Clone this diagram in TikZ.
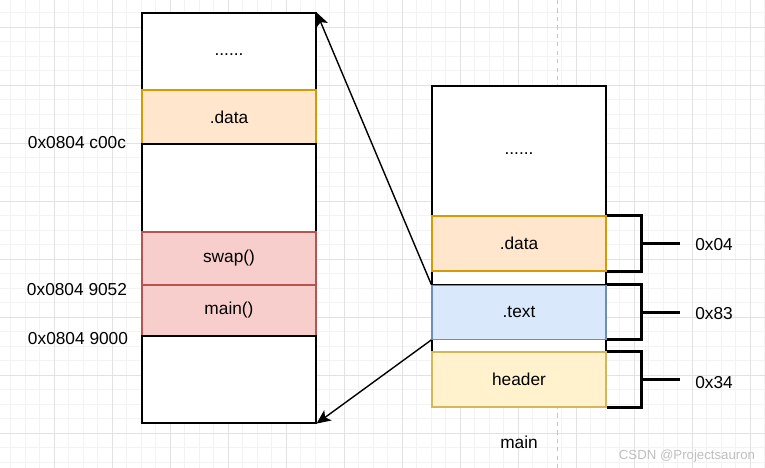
\documentclass[tikz,border=0pt]{standalone}
\usepackage{fontspec}
\setmainfont{Liberation Sans}
\usetikzlibrary{arrows.meta}

\definecolor{dataFill}{HTML}{FFE6CC}
\definecolor{dataLine}{HTML}{D79B00}
\definecolor{codeFill}{HTML}{F8CECC}
\definecolor{codeLine}{HTML}{B85450}
\definecolor{textFill}{HTML}{DAE8FC}
\definecolor{textLine}{HTML}{6C8EBF}
\definecolor{headFill}{HTML}{FFF2CC}
\definecolor{headLine}{HTML}{D6B656}
\definecolor{gridMinor}{HTML}{F3F3F3}
\definecolor{gridMajor}{HTML}{E2E2E2}

\tikzset{%
  % Specifications for style of nodes:
         base/.style = {rectangle, draw = black, line width=0.8pt, fill=white, minimum width=4.35cm, inner sep=0pt, font=\fontsize{12.3}{14}\selectfont},
     datapart/.style = {base, draw = dataLine, fill = dataFill},
     codepart/.style = {base, draw = codeLine, fill = codeFill},
     textpart/.style = {base, draw = textLine, fill = textFill},
     headpart/.style = {base, draw = headLine, fill = headFill},
        label/.style = {font=\fontsize{12.3}{14}\selectfont},
        brace/.style = {line width=2.2pt, line join=miter},
          arr/.style = {-{Stealth[length=10pt,width=9pt,inset=2.5pt]}, line width=1pt},
}

\begin{document}
\begin{tikzpicture}[x=0.025cm, y=-0.025cm]
    \useasboundingbox (0,0) rectangle (765,468);

    % Draw grid
    \foreach \i in {0,...,52} \draw[gridMinor, line width=0.5pt] ({10.8+14.5*\i},0) -- ++(0,468);
    \foreach \i in {0,...,31} \draw[gridMinor, line width=0.5pt] (0,{12.8+14.5*\i}) -- ++(765,0);
    \foreach \i in {-1,...,12} \draw[gridMajor, line width=0.6pt] ({54.3+58*\i},0) -- ++(0,468);
    \foreach \i in {0,...,7} \draw[gridMajor, line width=0.6pt] (0,{27.3+58*\i}) -- ++(765,0);
    \draw[gray!45, dashed, line width=0.6pt] (557.3,0) -- (557.3,468);

    % Draw nodes (memory)
    \node (ltop)    [base, minimum height=1.925cm] at (229,51.5)  {\raisebox{-5pt}{......}};
    \node (ldata)   [datapart, minimum height=1.35cm] at (229,117)  {.data};
    \node (lgap)    [base, minimum height=2.2cm] at (229,188)     {};
    \node (lswap)   [codepart, minimum height=1.325cm] at (229,258.5) {swap()};
    \node (lmain)   [codepart, minimum height=1.275cm] at (229,310.5) {main()};
    \node (lbot)    [base, minimum height=2.175cm] at (229,379.5) {};

    % Draw nodes (file)
    \node (rtop)    [base, minimum height=3.25cm] at (519,151)    {\raisebox{-5pt}{......}};
    \node (rgapa)   [base, minimum height=0.35cm] at (519,278)    {};
    \node (rgapb)   [base, minimum height=0.325cm] at (519,345.5) {};
    \node (rdata)   [datapart, minimum height=1.375cm] at (519,243.5) {.data};
    \node (rtext)   [textpart, minimum height=1.35cm] at (519,312.3)  {.text};
    \node (rheader) [headpart, minimum height=1.375cm] at (519,379.5) {header};

    % Draw labels
    \node (addrdata) [label] at (77,143)  {0x0804 c00c};
    \node (addrswap) [label] at (77,290)  {0x0804 9052};
    \node (addrmain) [label] at (78,339)  {0x0804 9000};
    \node (sizedata) [label] at (714,245) {0x04};
    \node (sizetext) [label] at (714,314) {0x83};
    \node (sizehead) [label] at (714,383) {0x34};
    \node (fname)    [label] at (519,442) {main};
    \node (mark) [font=\fontsize{9.4}{11}\selectfont, text=gray!50] at (687,456) {CSDN @Projectsauron};

    % Draw brackets
    \draw[brace] (rdata.north east) -- ++(35,0) |- (rdata.south east);
    \draw[brace] (rdata.east) ++(35,0) -- ++(38,0);
    \draw[brace] (rtext.north east) -- ++(35,0) |- (rtext.south east);
    \draw[brace] (rtext.east) ++(35,0) -- ++(38,0);
    \draw[brace] (rheader.north east) -- ++(35,0) |- (rheader.south east);
    \draw[brace] (rheader.east) ++(35,0) -- ++(38,0);

    % Draw arrows
    \draw[arr] (rtext.north west) -- (ltop.north east);
    \draw[arr] (rtext.south west) -- (lbot.south east);

\end{tikzpicture}
\end{document}
